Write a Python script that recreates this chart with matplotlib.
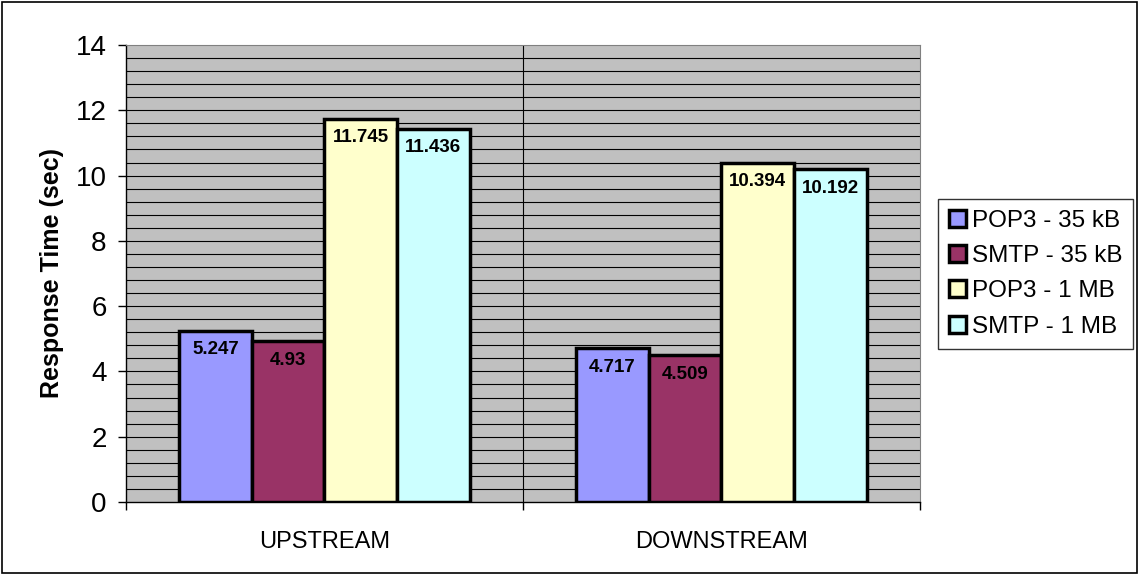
import numpy as np
import matplotlib.pyplot as plt
from matplotlib.patches import Rectangle

plt.rcParams['font.family'] = ['Liberation Sans', 'DejaVu Sans']

categories = ['UPSTREAM', 'DOWNSTREAM']
series = ['POP3 - 35 kB', 'SMTP - 35 kB', 'POP3 - 1 MB', 'SMTP - 1 MB']
pop3_35kb = [5.247, 4.717]
smtp_35kb = [4.93, 4.509]
pop3_1mb = [11.745, 10.394]
smtp_1mb = [11.436, 10.192]
value_labels = [['5.247', '4.717'], ['4.93', '4.509'],
                ['11.745', '10.394'], ['11.436', '10.192']]
colors = ['#9999FF', '#993366', '#FFFFCC', '#CCFFFF']

fig = plt.figure(figsize=(11.39, 5.75), dpi=100)
ax = fig.add_axes([0.1106, 0.127, 0.697, 0.7947])
ax.set_facecolor('#C0C0C0')

# horizontal grid every 0.4 sec
for yv in np.arange(0.4, 14.0, 0.4):
    ax.axhline(yv, color='black', lw=0.8, zorder=1)
ax.axvline(0.5, color='black', lw=0.8, zorder=1)

x = np.arange(len(categories))
w = 0.183
data = [pop3_35kb, smtp_35kb, pop3_1mb, smtp_1mb]
for i, (vals, c, name) in enumerate(zip(data, colors, series)):
    pos = x + (i - 1.5) * w
    ax.bar(pos, vals, width=w, color=c, edgecolor='black', lw=2.5,
           label=name, zorder=3)
    for px, v, lab in zip(pos, vals, value_labels[i]):
        ax.text(px, v - 0.33, lab, ha='center', va='top', fontsize=13.5,
                fontweight='bold', zorder=4)

ax.set_xlim(-0.5, 1.5)
ax.set_ylim(0, 14)
ax.set_yticks(np.arange(0, 15, 2))
ax.set_xticks(x)
ax.set_xticklabels(categories, fontsize=17)
ax.set_xticks([-0.5, 0.5, 1.5], minor=True)
ax.tick_params(axis='x', which='major', length=0, pad=21)
ax.tick_params(axis='x', which='minor', length=6, width=1, direction='out')
ax.tick_params(axis='y', labelsize=20, length=6, width=1, direction='out', pad=8)
ax.set_ylabel('Response Time (sec)', fontsize=18, fontweight='bold', labelpad=8)

for s in ['top', 'right']:
    ax.spines[s].set_color('#808080')
for s in ['left', 'bottom']:
    ax.spines[s].set_color('black')
    ax.spines[s].set_linewidth(1)

leg = fig.legend(loc='center left', bbox_to_anchor=(0.8235, 0.524),
                 fontsize=17.5, frameon=True, fancybox=False, edgecolor='black',
                 handlelength=0.7, handleheight=0.7, handletextpad=0.25,
                 labelspacing=0.55, borderpad=0.45, borderaxespad=0)
leg.get_frame().set_linewidth(1)

# outer frame round the whole figure
fig.patches.append(Rectangle((0.002, 0.003), 0.996, 0.994, transform=fig.transFigure,
                             fill=False, edgecolor='black', lw=1.2))

fig.savefig('out.png', dpi=100)
